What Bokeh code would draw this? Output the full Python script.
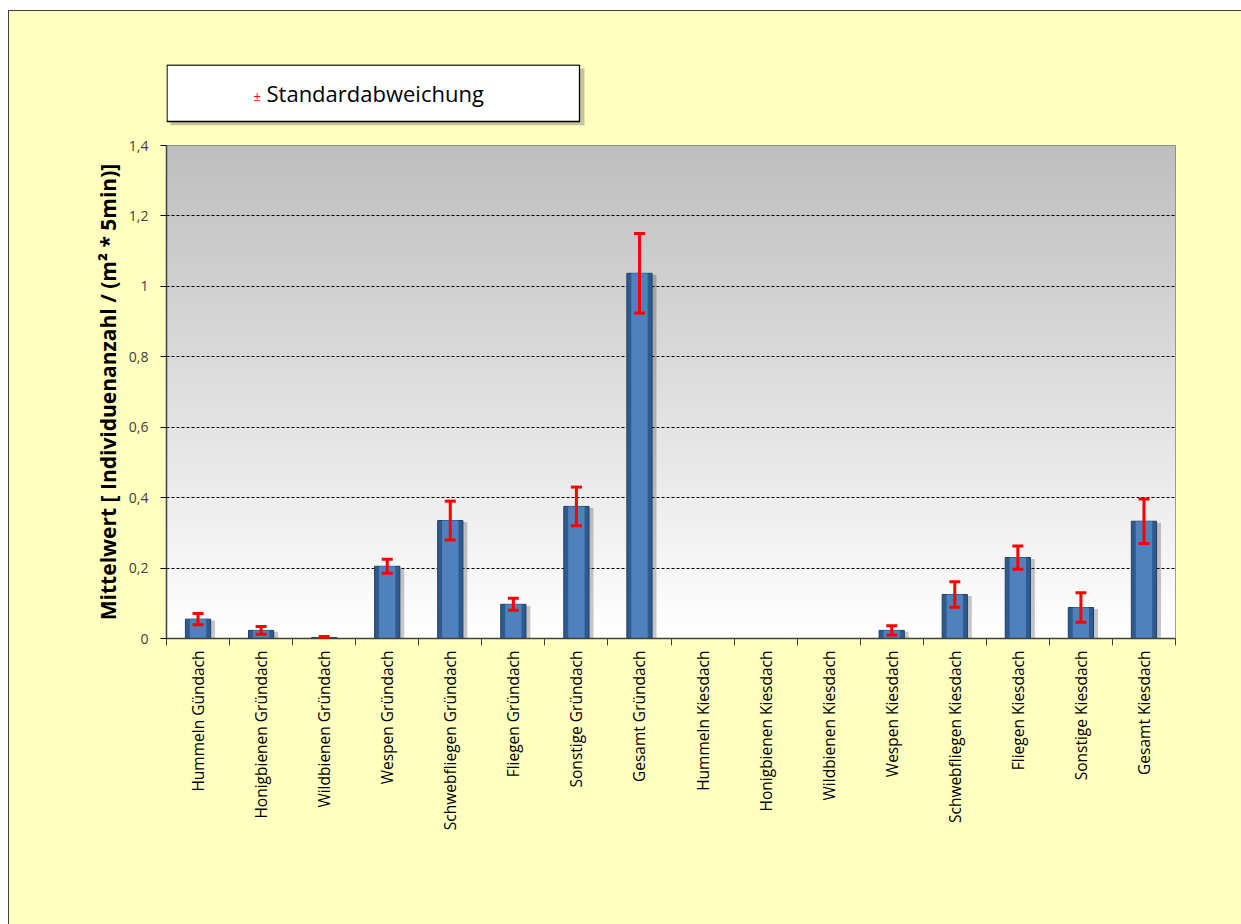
import numpy as np
from bokeh.plotting import figure
from bokeh.layouts import column
from bokeh.models import (Range1d, FixedTicker, CustomJSTickFormatter, ColumnDataSource,
                          Whisker, TeeHead)
from bokeh.core.properties import value
from bokeh.embed import file_html
from bokeh.resources import INLINE

categories = ["Hummeln Gündach", "Honigbienen Gründach", "Wildbienen Gründach", "Wespen Gründach",
              "Schwebfliegen Gründach", "Fliegen Gründach", "Sonstige Gründach", "Gesamt Gründach",
              "Hummeln Kiesdach", "Honigbienen Kiesdach", "Wildbienen Kiesdach", "Wespen Kiesdach",
              "Schwebfliegen Kiesdach", "Fliegen Kiesdach", "Sonstige Kiesdach", "Gesamt Kiesdach"]
means = [0.055, 0.023, 0.003, 0.205, 0.335, 0.097, 0.375, 1.037,
         0.0, 0.0, 0.0, 0.023, 0.125, 0.230, 0.088, 0.333]
sds = [0.016, 0.011, 0.003, 0.020, 0.055, 0.017, 0.055, 0.113,
       0.0, 0.0, 0.0, 0.013, 0.036, 0.033, 0.042, 0.063]
y_ticks = [0, 0.2, 0.4, 0.6, 0.8, 1.0, 1.2, 1.4]
grid_ticks = [0.2, 0.4, 0.6, 0.8, 1.0, 1.2]
legend_text = "Standardabweichung"

YELLOW = "#FFFFC0"
W = 1232
BL, BR = 157, 66
FW = W - BL - BR

# ---------------- legend strip (its own small figure) ----------------
LH = 120
leg = figure(width=W, height=LH, output_backend="svg", toolbar_location=None,
             x_axis_type=None, y_axis_type=None, x_range=Range1d(0, FW), y_range=Range1d(0, 61),
             min_border_left=BL, min_border_right=BR, min_border_top=53,
             min_border_bottom=LH - 53 - 61,
             background_fill_color=YELLOW, border_fill_color=YELLOW, outline_line_color=None)
leg.grid.visible = False
leg.quad(left=[4], right=[418], bottom=[0], top=[57], fill_color="#9E9E86", fill_alpha=0.6,
         line_color=None)
leg.quad(left=[0.5], right=[413], bottom=[4], top=[60.5], fill_color="white",
         line_color="#000000", line_width=1.3)
leg.text(x=[87], y=[30], text=["±"], text_color="red", text_font=value("Open Sans"),
         text_font_size="13px", text_baseline="middle")
leg.text(x=[100], y=[33], text=[legend_text], text_color="#000000", text_font=value("Open Sans"),
         text_font_size="22px", text_baseline="middle")

# ---------------- main chart ----------------
n = len(categories)
xs = [i + 0.5 for i in range(n)]

PH = 793
p = figure(width=W, height=PH, output_backend="svg", toolbar_location=None,
           x_range=Range1d(0, n), y_range=Range1d(0, 1.4),
           min_border_left=BL, min_border_right=BR, min_border_top=14, min_border_bottom=286,
           background_fill_color="white", border_fill_color=YELLOW,
           outline_line_color="#808080", outline_line_width=1)

# gradient background of the plot area
N = 200
grad = np.zeros((N, 1), dtype=np.uint32)
view = grad.view(dtype=np.uint8).reshape((N, 1, 4))
for r in range(N):
    t = r / (N - 1)  # 0 bottom, 1 top
    c = int(round(255 - t * (255 - 190)))
    view[r, 0, :] = [c, c, c, 255]
img = p.image_rgba(image=[grad], x=0, y=0, dw=n, dh=1.4)
img.level = "image"

src = ColumnDataSource(dict(x=xs, top=means, xs=[x + 0.07 for x in xs],
                            tops=[max(m - 0.004, 0) for m in means]))
# shadow
p.vbar(x="xs", top="tops", bottom=0, width=0.4, source=src, fill_color="#000000",
       fill_alpha=0.22, line_color=None)
# bar (dark edge + lighter centre)
p.vbar(x="x", top="top", bottom=0, width=0.4, source=src, fill_color="#2E5A8E",
       line_color="#1F3F66", line_width=1)
p.vbar(x="x", top="top", bottom=0, width=0.26, source=src, fill_color="#4F81BD",
       line_color=None)

eb_x = [x for x, s in zip(xs, sds) if s > 0]
eb_up = [m + s for m, s in zip(means, sds) if s > 0]
eb_lo = [max(m - s, 0) for m, s in zip(means, sds) if s > 0]
esrc = ColumnDataSource(dict(x=eb_x, upper=eb_up, lower=eb_lo))
wh = Whisker(base="x", upper="upper", lower="lower", source=esrc, line_color="red", line_width=3,
             upper_head=TeeHead(size=11, line_color="red", line_width=3),
             lower_head=TeeHead(size=11, line_color="red", line_width=3), level="overlay")
p.add_layout(wh)

# axes
p.xaxis.ticker = FixedTicker(ticks=xs, minor_ticks=list(range(n + 1)))
p.xaxis.major_label_overrides = {x: c for x, c in zip(xs, categories)}
p.xaxis.major_label_orientation = np.pi / 2
p.xaxis.major_tick_out = 0
p.xaxis.major_tick_in = 0
p.xaxis.minor_tick_out = 7
p.xaxis.minor_tick_in = 0
p.xaxis.minor_tick_line_color = "#404040"
p.xaxis.axis_line_color = "#404040"
p.xaxis.axis_line_width = 1.5
p.xaxis.major_label_text_font = "Open Sans"
p.xaxis.major_label_text_font_size = "15.5px"
p.xaxis.major_label_text_color = "#000000"
p.xaxis.major_label_standoff = 5

p.yaxis.ticker = FixedTicker(ticks=y_ticks)
p.yaxis.formatter = CustomJSTickFormatter(code="return tick.toString().replace('.', ',');")
p.yaxis.minor_tick_line_color = None
p.yaxis.major_tick_out = 6
p.yaxis.major_tick_in = 0
p.yaxis.axis_line_color = "#404040"
p.yaxis.axis_line_width = 1.5
p.yaxis.major_label_text_font = "Open Sans"
p.yaxis.major_label_text_font_size = "14px"
p.yaxis.major_label_text_color = "#404040"
p.yaxis.major_label_standoff = 12
p.yaxis.axis_label = "Mittelwert [ Individuenanzahl / (m² * 5min)]"
p.yaxis.axis_label_text_font = "Open Sans"
p.yaxis.axis_label_text_font_style = "bold"
p.yaxis.axis_label_text_font_size = "21px"
p.yaxis.axis_label_text_color = "#000000"
p.yaxis.axis_label_standoff = 4

p.xgrid.grid_line_color = None
p.ygrid.ticker = FixedTicker(ticks=grid_ticks)
p.ygrid.grid_line_color = "#000000"
p.ygrid.grid_line_dash = "3 2"
p.ygrid.grid_line_width = 1

layout = column(leg, p, spacing=0,
                styles={"margin-left": "8px", "margin-top": "10px",
                        "border-left": "1px solid #404040", "border-top": "1px solid #404040",
                        "background-color": YELLOW})

open("out.html", "w").write(file_html(layout, INLINE))
